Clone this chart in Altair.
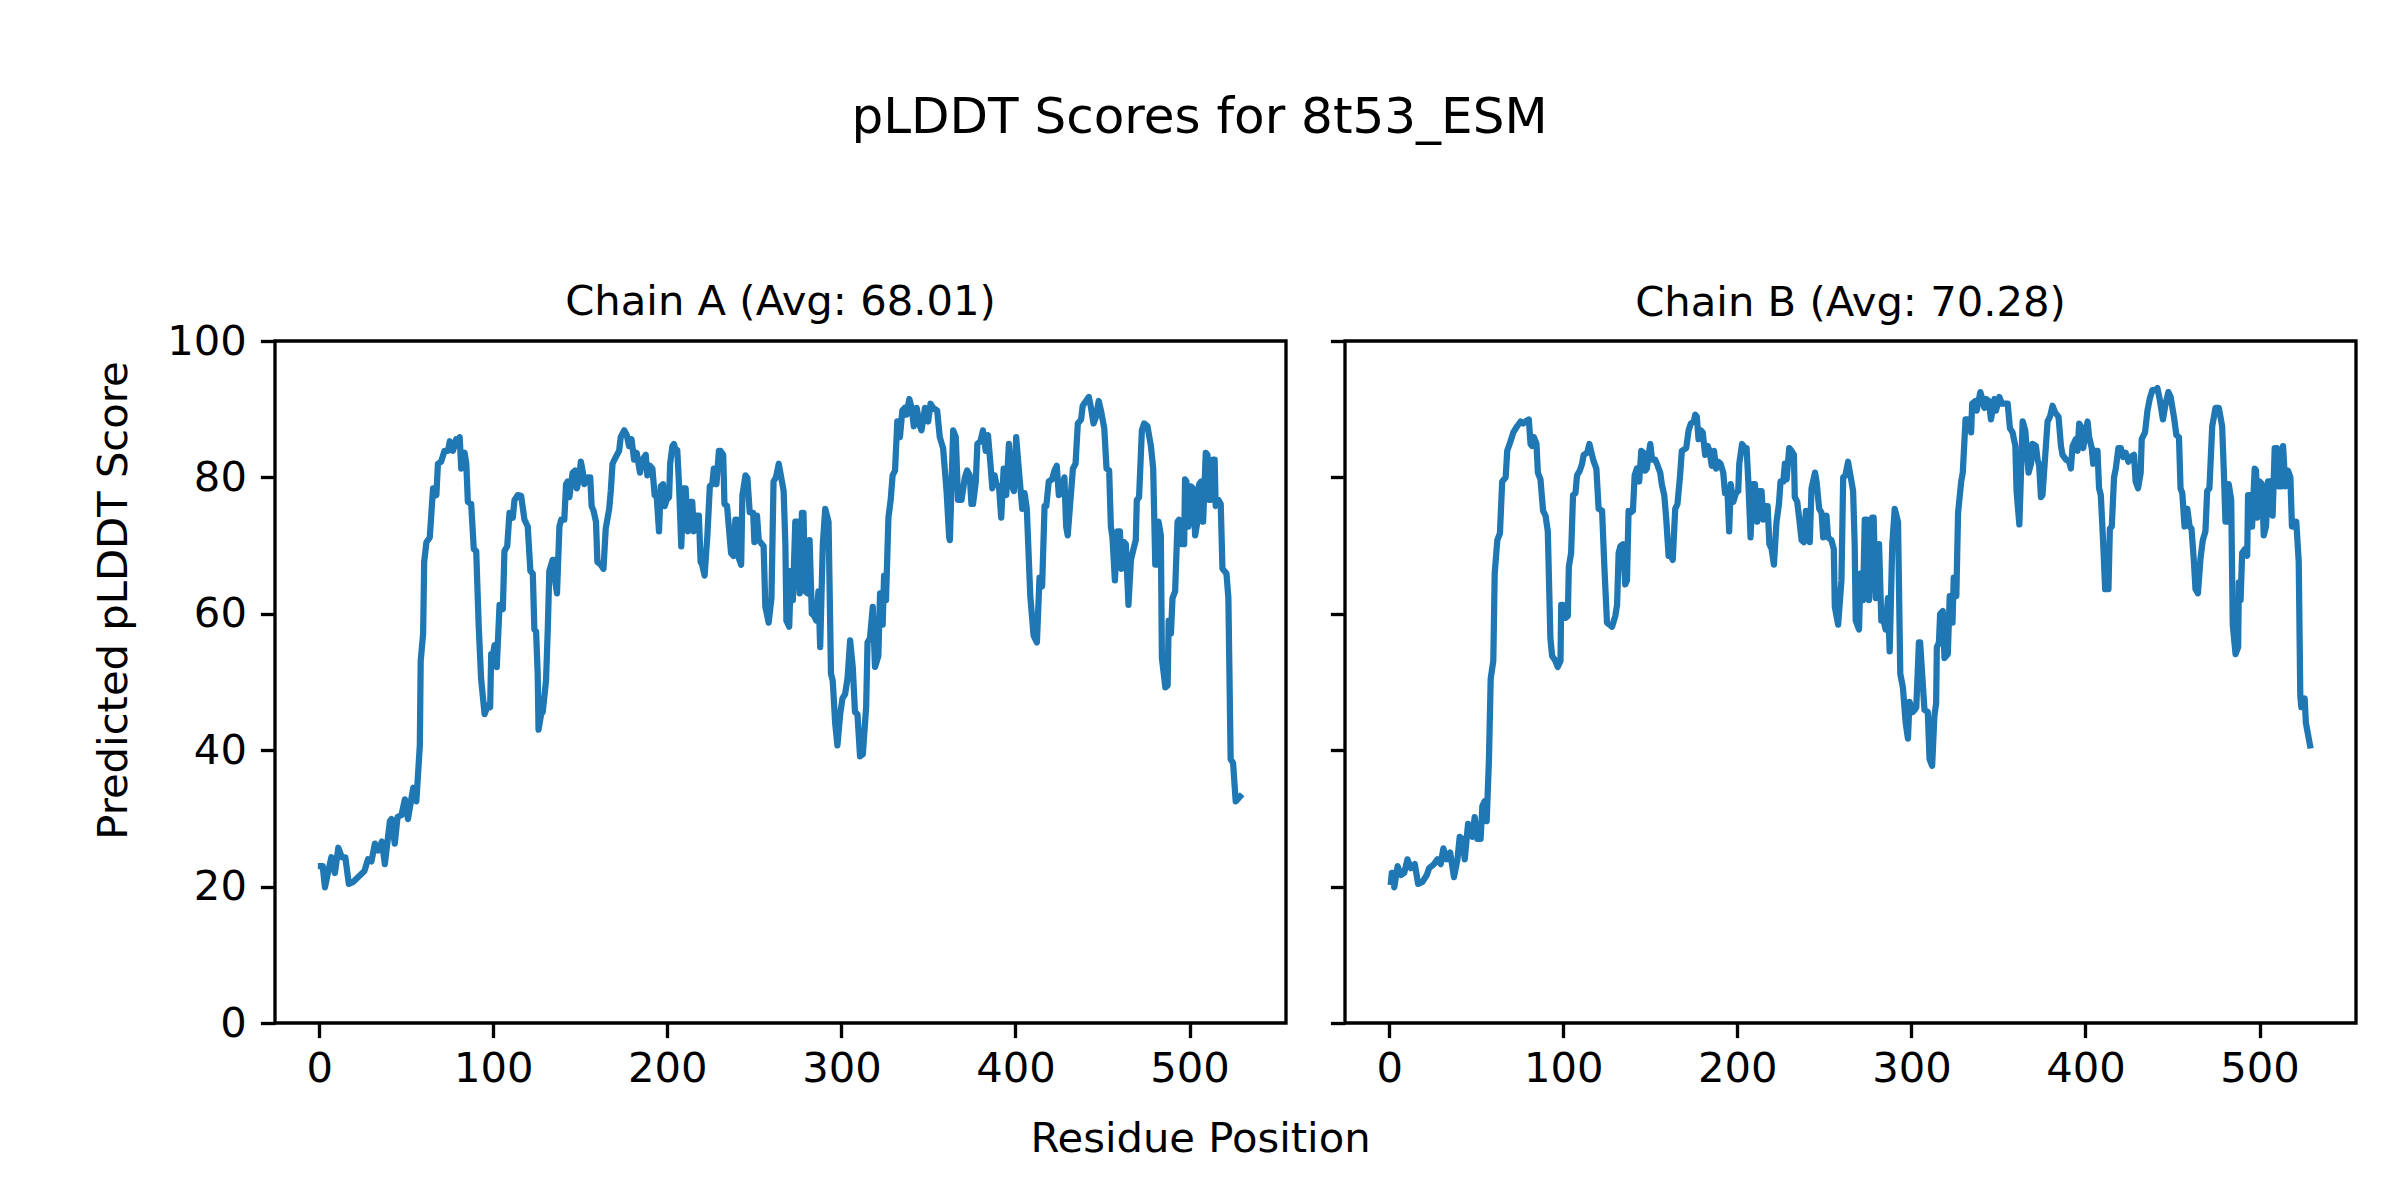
import altair as alt
import pandas as pd

FONT = "DejaVu Sans"
LINE_COLOR = "#1f77b4"

main_title = "pLDDT Scores for 8t53_ESM"
title_a = "Chain A (Avg: 68.01)"
title_b = "Chain B (Avg: 70.28)"
x_title = "Residue Position"
y_title = "Predicted pLDDT Score"
x_ticks = [0, 100, 200, 300, 400, 500]
y_ticks = [0, 20, 40, 60, 80, 100]

chain_a_res = [
    1, 2, 3.3, 5, 7, 9, 11, 13, 15, 17, 19.6, 22.4, 26, 28, 30, 32, 34, 36, 37.7, 40.6,
    41.5, 43.4, 45, 47.3, 49.2, 51, 54, 55.8, 57.8, 58.3, 59.7, 60.3, 61.6, 63.5, 65.4, 67.3, 68.2, 70, 72, 74,
    75, 76.8, 78.7, 79.7, 80.7, 81.6, 82.6, 83.5, 84.5, 85.4, 87.3, 88.8, 90.2, 91.6, 93, 95, 96.9, 98.2, 98.8, 99.7,
    100.7, 102, 103.6, 105.5, 106.4, 108, 109.3, 111.2, 112.2, 114.1, 116, 117.9, 119.8, 121.3, 122.7, 123.6, 124.6, 125.5, 126, 127.5,
    128.4, 130.3, 131.3, 132.2, 134.1, 135, 135.5, 136.6, 138, 139, 140.8, 141.8, 142.7, 143.7, 145.6, 147, 148, 149.4, 150.3, 151.3,
    152.3, 154.2, 155.7, 156.5, 157.6, 159, 159.8, 161.8, 163.3, 164.6, 166.6, 167.5, 168.5, 170.4, 172.3,
    173.2, 175.2, 176.7, 178, 179.4, 180.9, 182.4, 184.3, 185.7, 187.6, 188.5, 190, 191.4, 192.7, 193.9, 195.2, 196.2, 197.5, 198.5, 199.6,
    201, 201.6, 202.9, 203.8, 204.8, 205.7, 206.7, 208, 209.2, 210.5, 211.8, 213.3, 214.3, 215.2, 216.8, 218.1, 219.1, 220, 221.4, 223,
    224.4, 225.8, 226.7, 228.2, 229.6, 230.5, 232.1, 232.8, 234.3, 235.3, 236.6, 238, 239.1, 240, 241, 242.4, 243.1, 244.9, 246, 247.3,
    249.3, 250, 251.5, 252.5, 255.3, 256.3, 258.2, 259.8, 261, 262.4, 264, 266.8, 267.8, 268.4, 270, 271, 272.1, 273.5, 274.8, 276,
    277.3, 278.2, 279.2, 280.6, 281.7, 283, 284.3, 285.5, 286.8, 287.8, 289.3, 290.7, 292.6, 294, 295, 296.4, 297.7, 299.3, 300.6, 302.1,
    303.5, 305, 306.5, 307.8, 309.2, 310.7, 312.3, 314.2, 315, 316.4, 318, 319.3, 321.2, 322.2, 323.7, 324.5, 325.6, 327, 328.3, 329.4,
    330.8, 332.1, 333.6, 335, 336.4, 337.4, 339, 340.3, 341.6, 343.2, 345.1, 346, 348, 349.8, 351.2, 352.7, 355, 356.5, 358.4, 360.4,
    361.9, 362.3, 364.2, 365.7, 367, 369, 370.9, 372.2, 373.7, 374.7, 375.6, 377.2, 378.1, 379.9, 381.3, 382.9, 384.2, 385.6, 386.7, 388,
    389, 390.5, 391.8, 393.2, 394.7, 396.2, 397.6, 399.1, 400.4, 402.3, 403.9, 405.2, 406.5, 408.5, 410.4, 412.3, 413.8, 415.3, 416.7, 417.7,
    419.1, 421, 422.4, 423.7, 424.9, 426.2, 428.1, 429.1, 430, 431.4, 433, 434.5, 435.8, 437.7, 438.6, 440.5, 442.1, 443.4, 444.8, 446.3,
    447.8, 449.1, 451, 452.3, 453.8, 454.8, 455.7, 457.1, 458.6, 460, 460.9, 462.4, 463.4, 464.9, 466.3, 467.8, 469.1, 469.7, 471, 472.6,
    473.9, 475.8, 477.8, 479.1, 480.3, 481.6, 482.2, 483.5, 484.1, 486.1, 487.4, 488, 489.3, 490.2, 491.7, 493.1, 494, 495.5, 496.9, 497.4,
    498.2, 499.3, 500.7, 502, 503.2, 504.5, 505.5, 506.6, 507.8, 509.3, 510.3, 511.2, 512.2, 513.5, 514.4, 515, 516.6, 517.9, 518.9, 521.2,
    522.3, 523.6, 525, 526.5, 529,
]
chain_a_score = [
    23.0, 23.0, 19.9, 22.0, 24.3, 22.0, 25.7, 24.3, 24.3, 20.4, 20.7, 21.4, 22.3, 24.0, 23.7, 26.3, 25.3, 26.6, 23.3, 29.6,
    29.9, 26.3, 30.2, 30.5, 32.8, 29.9, 34.5, 32.5, 40.7, 53.1, 57.1, 67.6, 70.5, 71.2, 78.4, 77.4, 82.0, 82.3, 83.9, 83.9,
    85.3, 83.9, 85.6, 84.6, 85.9, 81.3, 83.3, 83.6, 82.0, 76.4, 76.1, 69.5, 69.2, 58.4, 50.5, 45.3, 46.6, 46.3, 54.1, 53.8,
    55.4, 52.2, 61.3, 60.7, 69.2, 69.9, 74.8, 74.1, 76.7, 77.4, 77.3, 73.8, 72.8, 66.3, 65.9, 57.7, 57.4, 51.2, 43.0, 45.3,
    45.6, 50.2, 57.7, 66.3, 67.9, 67.9, 64.9, 63.0, 72.8, 73.8, 73.8, 79.0, 79.4, 77.1, 80.7, 81.0, 78.4, 80.0, 82.3, 81.0,
    79.0, 80.0, 80.0, 75.8, 75.1, 73.5, 67.6, 67.2, 66.6, 72.5, 75.4, 78.0, 82.0, 83.0, 83.9,
    85.9, 86.9, 86.2, 84.6, 85.6, 82.6, 83.6, 80.7, 82.6, 83.3, 80.3, 81.7, 81.3, 77.4, 77.1, 72.1, 78.7, 79.0, 75.8, 76.7,
    77.1, 82.0, 84.6, 84.9, 83.9, 84.0, 79.0, 69.9, 78.4, 78.4, 72.1, 76.4, 76.4, 72.1, 74.4, 74.4, 67.6, 67.2, 65.6, 71.5,
    78.7, 79.0, 81.3, 79.0, 83.9, 83.9, 83.3, 76.1, 75.8, 72.8, 68.9, 68.5, 73.8, 73.8, 68.2, 67.2, 77.4, 80.3, 79.9, 74.9,
    74.8, 70.5, 74.4, 70.8, 69.9, 61.0, 58.7, 62.3, 79.4, 80.0, 82.0, 78.0, 70.2, 59.0, 58.1, 66.3, 62.0, 73.5, 73.5, 63.0,
    74.8, 74.8, 63.3, 63.0, 70.8, 60.0, 59.7, 59.0, 63.3, 55.1, 70.2, 75.4, 73.5, 51.2, 50.2, 44.0, 40.7, 45.3, 47.6, 48.2,
    50.5, 56.1, 52.2, 45.6, 45.3, 39.1, 39.4, 46.3, 55.8, 56.4, 61.0, 52.2, 53.8, 63.0, 58.4, 65.6, 62.0, 74.1, 76.7, 80.3,
    81.0, 88.2, 85.9, 89.8, 90.2, 89.2, 91.5, 90.2, 87.5, 90.2, 87.5, 86.9, 90.2, 88.2, 90.8, 90.2, 89.8, 85.9, 84.3, 78.0,
    71.2, 70.8, 86.9, 85.9, 76.7, 76.7, 80.0, 81.0, 80.3, 76.1, 76.1, 79.4, 84.9, 85.3, 86.9, 83.9, 86.2, 82.0, 78.4, 80.3,
    79.0, 78.7, 74.1, 81.3, 77.4, 84.9, 79.0, 78.0, 85.9, 80.0, 75.4, 77.7, 75.4, 62.6, 56.8, 55.8, 65.3, 64.0, 75.8, 75.8,
    79.4, 79.7, 81.0, 81.7, 77.4, 77.7, 80.0, 72.8, 71.5, 76.1, 81.3, 82.0, 87.9, 88.5, 90.5, 91.2, 91.8, 90.2, 87.9, 88.9,
    91.2, 89.8, 87.2, 81.3, 81.0, 72.8, 71.2, 64.9, 72.1, 72.1, 66.6, 70.5, 70.2, 61.3, 67.9, 69.5, 70.8, 76.7, 77.1, 86.9,
    87.9, 87.5, 84.6, 81.3, 67.2, 67.2, 73.5, 71.5, 53.5, 49.2, 49.5, 59.0, 57.1, 62.3, 63.3, 73.5, 73.8, 70.2, 70.2, 79.7,
    79.4, 72.8, 78.7, 78.4, 71.5, 73.5, 79.0, 79.4, 73.5, 83.6, 83.3, 76.7, 76.7, 82.6, 82.6, 75.8, 76.7, 76.1, 66.6, 65.9,
    62.3, 38.7, 38.1, 32.5, 33.2,
]

chain_b_res = [
    1, 1.5, 2, 2.9, 4.8, 6.7, 8.6, 10.5, 12.4, 14.7, 16.6, 19.1, 21.6, 22.9, 25.8, 27.7, 29.6, 31.1, 33, 35,
    37.2, 39.2, 40.5, 42, 43.4, 45.3, 47.8, 49.1, 50.6, 52.5, 53.5, 54.8, 56, 57.3, 58.3, 59.8, 60.6, 62.1, 63.6, 64.9,
    66.9, 67.8, 69.7, 71.3, 73.5, 75.5, 77, 78.3, 80.2, 81.2, 82.1, 83.1, 84.6, 85.4, 86.9, 88.4, 89.8, 91.1, 92.6, 93.6,
    95.5, 96.8, 98.4, 98.8, 99.9, 101.3, 102.6, 103.2, 104.5, 105.6, 107, 107.9, 109.5, 110.8, 111.7, 113.7, 115, 116.5, 117.5, 119,
    120.3, 122.3, 123.6, 125.1, 126.6, 128, 129.9, 130.9, 131.8, 132.8, 134.3, 135.6, 136.6, 137.5, 138.5, 140, 141, 142.3, 143.6, 144.8,
    146.1, 147.1, 148, 149, 150, 151, 152.8, 153.8, 155.7, 156.6, 158, 159.1, 160.5, 161.8, 162.9, 164.3, 165.6, 167.1, 168.1,
    170.6, 172, 173.3, 175, 175.8, 176.7, 177.7, 179, 180.1, 181.5, 183, 184, 185.3, 186.6, 187.8, 189.1, 190.4, 191.9, 192.9, 194.3,
    195.3, 196.2, 197.7, 199.2, 200.5, 201.1, 202.7, 204.4, 205.3, 206.3, 207.6, 208.8, 210.1, 211.4, 212.9, 213.9, 214.9, 216.4, 217.4, 218.4,
    219.7, 221, 222.5, 223.9, 224.8, 226.4, 227.3, 228.3, 229.8, 231.1, 232.5, 233, 234.4, 235.6, 236.9, 238.2, 239.4, 240.7, 241.6, 242.6,
    244.6, 245.5, 247, 248.4, 249.3, 251.2, 252.1, 254, 255.4, 256, 257.9, 259.8, 260.8, 262.1, 263.6, 266.5, 267.4, 268, 269.9, 270.7,
    272.2, 273.2, 274.5, 275.6, 277.5, 278.3, 279.5, 281.4, 282.7, 284, 285.2, 286.5, 287.5, 289, 290.4, 292.3, 293.6, 295.1, 296.7, 298,
    298.9, 300.8, 301.8, 302.8, 304.3, 305, 307.5, 309.4, 310.4, 311.9, 313.2, 314.2, 314.6, 315.8, 316.5, 318, 319, 320.9, 322, 323.6,
    324.3, 325.8, 326.8, 328.6, 329.5, 331.1, 333, 334.3, 334.9, 336.8, 337.5, 339.6, 341, 341.9, 342.9, 344.4, 345.7, 347.7, 348.6, 350.5,
    352, 355.3, 356.6, 358.1, 359.7, 360.4,
    362, 363.9, 365.4, 367.3, 368.7, 369.6, 371.5, 372.5, 373.4, 374.4, 375.3, 376.9, 378.2, 379.6, 381.1, 382.6, 384.5, 385.9, 386.8, 388.8,
    390.6, 391.6, 392.6, 394.4, 395.4, 396.4, 397.3, 398.7, 399.8, 401.2, 402.1, 403.6, 404.4, 405.5, 406.9, 407.8, 408.8, 410.2, 411.3, 413.2,
    414, 415.1, 416.4, 417.4, 418.9, 420.3, 421.6, 423.1, 424.6, 426, 427.9, 428.8, 430.2, 431.7, 432.3, 434.2, 435.6, 436.9, 438.4, 439.9,
    441.3, 442.6, 444.5, 446, 447.6, 448.9, 450.8, 452.2, 453.7, 454.6, 455.6, 456.9, 458.5, 459.8, 460.9, 462.3, 463.2, 464.6, 466.1, 467.4,
    468.9, 469.9, 471.2, 472.8, 474.7, 476.6, 478.5, 479.5, 480.4, 481.4, 482.3, 483.7, 484.6, 486.2, 487.7, 488.1, 489.1, 490, 491.6, 492.9,
    493.4, 494.8, 495.7, 497.2, 498, 498.6, 499.9, 501.4, 502.4, 503.7, 504.9, 506.2, 507.5, 508.7, 510, 511, 512.5, 513.5, 514.8, 516.3,
    517.7, 518.6, 520.2, 521.1, 522.5, 523.4, 524, 525.9, 526.6, 529,
]
chain_b_score = [
    20.7, 22.0, 22.0, 19.9, 23.0, 21.7, 22.0, 24.0, 22.7, 23.3, 20.4, 20.7, 21.7, 22.7, 23.3, 24.0, 23.3, 25.6, 24.0, 25.0,
    21.4, 24.0, 27.3, 27.0, 24.0, 29.2, 27.3, 30.2, 27.0, 27.0, 31.8, 32.5, 29.6, 38.7, 50.5, 53.1, 65.9, 70.8, 71.8, 79.4,
    80.0, 83.9, 85.3, 86.6, 87.5, 88.2, 87.9, 88.2, 88.5, 84.9, 84.6, 85.9, 84.9, 80.7, 79.7, 75.1, 74.4, 72.1, 56.4, 53.8,
    53.1, 52.2, 53.1, 61.3, 61.3, 59.4, 59.7, 66.9, 68.9, 77.4, 77.7, 80.3, 81.0, 82.0, 83.3, 83.6, 84.9, 83.3, 82.3, 81.3,
    75.4, 75.1, 66.9, 58.7, 58.4, 58.1, 59.7, 61.3, 68.9, 69.9, 70.2, 64.3, 64.9, 75.1, 74.8, 75.1, 80.3, 81.3, 79.4, 83.9,
    83.6, 81.0, 81.3, 83.3, 84.9, 82.6, 82.6, 82.0, 80.7, 79.0, 77.4, 74.1, 68.5, 68.5, 67.9, 75.4, 76.1, 80.3, 83.9,
    84.3, 86.9, 87.9, 88.2, 89.2, 88.9, 85.6, 86.9, 86.6, 83.3, 84.6, 83.9, 81.7, 83.9, 81.3, 82.3, 82.0, 80.7, 77.7, 78.0,
    72.1, 79.0, 76.4, 77.7, 78.0, 82.0, 84.9, 84.3, 84.3, 79.4, 71.2, 79.0, 79.0, 73.5, 78.0, 78.0, 73.8, 75.8, 75.8, 70.2,
    69.5, 67.2, 73.5, 76.1, 79.4, 79.4, 82.0, 79.7, 84.3, 83.9, 83.3, 77.1, 76.4, 73.8, 70.8, 70.5, 75.1, 74.8, 70.5, 78.4,
    80.7, 79.4, 75.4, 74.8, 71.2, 74.4, 71.2, 70.8, 69.5, 61.0, 58.4, 64.9, 80.0, 80.3, 82.3, 78.0, 70.2, 59.0, 57.7, 65.9,
    62.0, 73.8, 73.8, 62.0, 74.1, 74.1, 62.3, 70.2, 59.0, 59.0, 57.7, 62.3, 54.5, 70.2, 75.4, 73.5, 51.2, 49.2, 44.0, 41.7,
    47.1, 45.6, 45.9, 46.3, 55.8, 55.8, 45.9, 45.6, 38.7, 37.7, 45.0, 46.9, 55.1, 55.8, 60.0, 60.4, 53.5, 54.1, 62.6, 58.7,
    65.3, 62.6, 74.8, 79.4, 80.7, 88.5, 88.5, 86.6, 90.8, 91.2, 89.8, 92.5, 91.2, 90.2, 91.5, 91.2, 88.5, 91.5, 89.8, 91.8,
    90.8, 90.8, 87.2, 86.6, 84.6, 78.0,
    73.1, 88.2, 86.9, 80.7, 82.0, 84.9, 84.6, 82.6, 81.7, 77.1, 77.4, 83.3, 88.2, 88.9, 90.5, 89.5, 88.9, 84.6, 83.3, 82.6,
    82.3, 81.3, 84.6, 85.6, 83.9, 87.9, 87.5, 84.3, 86.2, 88.2, 85.9, 84.3, 82.0, 83.9, 83.9, 78.4, 77.4, 70.2, 63.6, 63.6,
    72.5, 72.8, 80.0, 81.3, 84.3, 84.3, 83.0, 83.6, 82.3, 83.0, 83.3, 79.4, 78.4, 80.7, 85.6, 86.6, 89.8, 91.5, 92.8, 92.8,
    93.1, 91.5, 88.5, 90.8, 92.5, 91.8, 88.9, 86.2, 85.9, 78.4, 77.7, 72.8, 75.4, 72.8, 72.5, 67.6, 63.6, 63.0, 68.2, 70.8,
    72.1, 78.0, 78.4, 87.5, 90.2, 90.2, 87.5, 80.7, 73.5, 73.5, 79.0, 76.7, 58.4, 54.1, 55.1, 64.6, 62.0, 68.9, 69.5, 68.5,
    77.4, 77.4, 72.8, 81.3, 81.0, 74.1, 79.4, 79.0, 71.5, 72.8, 79.4, 79.4, 74.4, 84.3, 84.3, 78.7, 78.7, 84.6, 78.7, 81.0,
    80.0, 72.8, 72.8, 73.5, 67.6, 47.9, 46.3, 47.6, 44.0, 40.7,
]

AX_W = 1011
AX_H = 682
X_DOMAIN = [-25.4, 555.4]


def panel(res, score, title, first, title_offset):
    df = pd.DataFrame({"Residue": res, "Score": score, "idx": list(range(len(res)))})
    if first:
        y_axis = alt.Axis(
            values=y_ticks, title=y_title, titleX=-149, titleY=259, titleAngle=270,
            titleAlign="center", titleBaseline="alphabetic",
        )
        x_axis = alt.Axis(
            values=x_ticks, title=x_title, titleX=925, titleY=128,
            titleAlign="center", titleBaseline="alphabetic",
        )
    else:
        y_axis = alt.Axis(values=y_ticks, title=None, labels=False)
        x_axis = alt.Axis(values=x_ticks, title=None)
    return (
        alt.Chart(
            df,
            title=alt.Title(
                title, fontSize=41.7, font=FONT, fontWeight="normal", color="black",
                frame="group", anchor="middle", baseline="alphabetic", offset=title_offset,
            ),
        )
        .mark_line(color=LINE_COLOR, strokeWidth=6.25, strokeJoin="round", strokeCap="square")
        .encode(
            x=alt.X("Residue:Q", scale=alt.Scale(domain=X_DOMAIN, nice=False, zero=False), axis=x_axis),
            y=alt.Y("Score:Q", scale=alt.Scale(domain=[0, 100], nice=False, zero=False), axis=y_axis),
            order=alt.Order("idx:Q"),
        )
        .properties(width=AX_W, height=AX_H)
    )


chart_a = panel(chain_a_res, chain_a_score, title_a, True, -36)
chart_b = panel(chain_b_res, chain_b_score, title_b, False, -18)

chart = (
    alt.hconcat(chart_a, chart_b, spacing=59, bounds="flush")
    .properties(
        title=alt.Title(
            main_title, fontSize=50, font=FONT, fontWeight="normal", color="black",
            anchor="middle", baseline="alphabetic", offset=98, dx=-25,
        ),
        padding={"left": 83, "top": 84, "right": 10, "bottom": 10},
        background="white",
    )
    .configure_view(stroke="black", strokeWidth=3.33)
    .configure_axis(
        grid=False,
        domain=False,
        labelFont=FONT,
        labelFontSize=41.7,
        labelColor="black",
        tickColor="black",
        tickSize=14.6,
        tickWidth=3.33,
        labelPadding=14,
        titleFont=FONT,
        titleFontSize=41.7,
        titleFontWeight="normal",
        titleColor="black",
    )
    .configure_axisX(labelPadding=11)
)

chart.save("out.html", embed_options={"renderer": "svg", "actions": False})
